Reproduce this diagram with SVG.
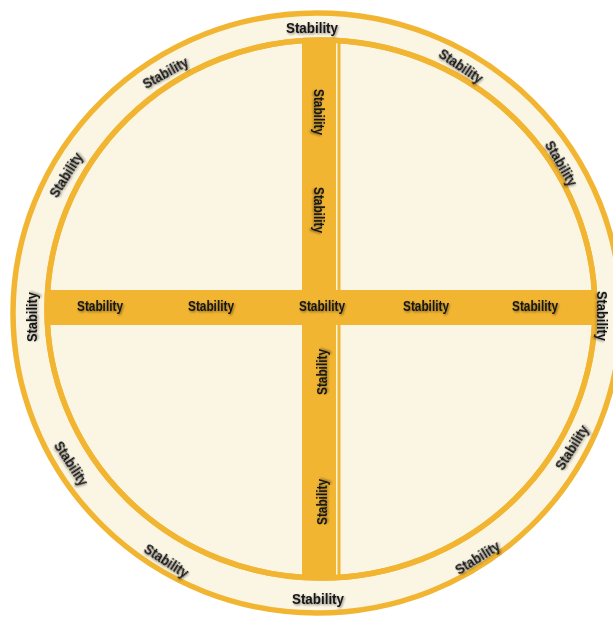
<svg xmlns="http://www.w3.org/2000/svg" width="613" height="618" viewBox="0 0 613 618">
<defs>
<style>
.ring{fill:#FBF5E3;stroke:#F2B531;stroke-width:5.5}
.bar{fill:#F2B531}
.lbl{font-family:"Liberation Sans",Arial,sans-serif;font-weight:bold;font-size:15px;fill:#141414;text-anchor:middle;dominant-baseline:central;filter:url(#sh)}
</style>
<filter id="sh" x="-20%" y="-50%" width="140%" height="200%">
<feDropShadow dx="1" dy="1.2" stdDeviation="0.9" flood-color="#000" flood-opacity="0.45"/>
</filter>
<clipPath id="inner"><ellipse cx="321" cy="309" rx="274" ry="269"/></clipPath>
</defs>
<rect width="613" height="618" fill="#fff"/>
<g id="outer-ring"><ellipse class="ring" cx="317" cy="313" rx="304" ry="300"/></g>
<g id="inner-circle"><ellipse class="ring" cx="321" cy="309" rx="274" ry="269"/></g>
<g id="cross" clip-path="url(#inner)">
<rect class="bar" x="302" y="30" width="34" height="560"/>
<rect class="bar" x="337.5" y="30" width="3" height="560"/>
<rect class="bar" x="40" y="290" width="565" height="35"/>
</g>
<g id="inner-outline"><ellipse cx="321" cy="309" rx="274" ry="269" fill="none" stroke="#F2B531" stroke-width="5.5"/></g>
<g id="ring-labels">
<text class="lbl" x="312" y="27" textLength="52" lengthAdjust="spacingAndGlyphs">Stability</text>
<text class="lbl" x="318" y="598" textLength="52" lengthAdjust="spacingAndGlyphs">Stability</text>
<text class="lbl" transform="translate(31,317) rotate(-90)" textLength="50" lengthAdjust="spacingAndGlyphs">Stability</text>
<text class="lbl" transform="translate(603,316) rotate(90)" textLength="50" lengthAdjust="spacingAndGlyphs">Stability</text>
<text class="lbl" transform="translate(165,72) rotate(-29)" textLength="50" lengthAdjust="spacingAndGlyphs">Stability</text>
<text class="lbl" transform="translate(461,66) rotate(34)" textLength="50" lengthAdjust="spacingAndGlyphs">Stability</text>
<text class="lbl" transform="translate(66,175) rotate(-58)" textLength="50" lengthAdjust="spacingAndGlyphs">Stability</text>
<text class="lbl" transform="translate(562,163) rotate(60)" textLength="50" lengthAdjust="spacingAndGlyphs">Stability</text>
<text class="lbl" transform="translate(72,463) rotate(57)" textLength="50" lengthAdjust="spacingAndGlyphs">Stability</text>
<text class="lbl" transform="translate(571,447) rotate(-58)" textLength="50" lengthAdjust="spacingAndGlyphs">Stability</text>
<text class="lbl" transform="translate(167,560) rotate(33)" textLength="50" lengthAdjust="spacingAndGlyphs">Stability</text>
<text class="lbl" transform="translate(477,557) rotate(-32)" textLength="50" lengthAdjust="spacingAndGlyphs">Stability</text>
</g>
<g id="cross-labels">
<text class="lbl" x="100" y="305" textLength="46" lengthAdjust="spacingAndGlyphs">Stability</text>
<text class="lbl" x="211" y="305" textLength="46" lengthAdjust="spacingAndGlyphs">Stability</text>
<text class="lbl" x="322" y="305" textLength="46" lengthAdjust="spacingAndGlyphs">Stability</text>
<text class="lbl" x="426" y="305" textLength="46" lengthAdjust="spacingAndGlyphs">Stability</text>
<text class="lbl" x="535" y="305" textLength="46" lengthAdjust="spacingAndGlyphs">Stability</text>
<text class="lbl" transform="translate(320,112) rotate(90)" textLength="46" lengthAdjust="spacingAndGlyphs">Stability</text>
<text class="lbl" transform="translate(320,210) rotate(90)" textLength="46" lengthAdjust="spacingAndGlyphs">Stability</text>
<text class="lbl" transform="translate(321,372) rotate(-90)" textLength="46" lengthAdjust="spacingAndGlyphs">Stability</text>
<text class="lbl" transform="translate(321,502) rotate(-90)" textLength="46" lengthAdjust="spacingAndGlyphs">Stability</text>
</g>
</svg>
